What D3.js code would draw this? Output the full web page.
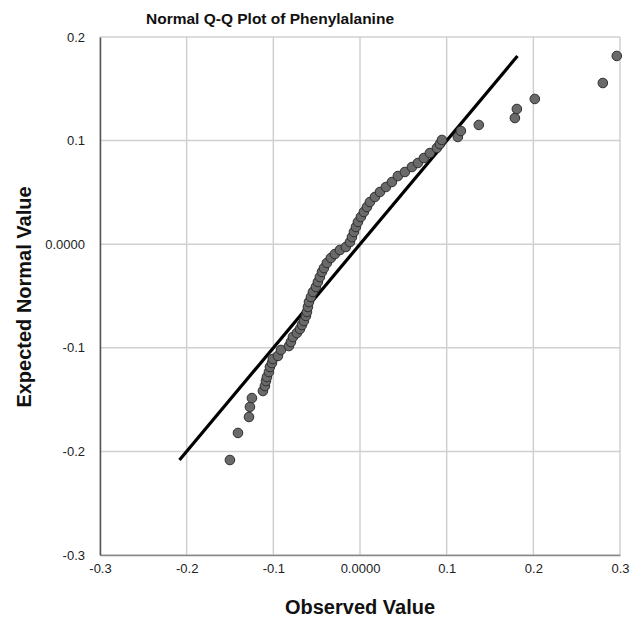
<!DOCTYPE html>
<html>
<head>
<meta charset="utf-8">
<script src="https://cdn.jsdelivr.net/npm/d3@7"></script>
<style>
  html, body { margin: 0; padding: 0; background: #fff; }
  svg { display: block; font-family: Arial, "Liberation Sans", sans-serif; }
</style>
</head>
<body>
<svg id="chart" width="633" height="624"></svg>
<script>
const observed = [
  -0.1501, -0.1408, -0.1281, -0.1270, -0.1247, -0.1120, -0.1097, -0.1085, -0.1074, -0.1051,
  -0.1039, -0.1016, -0.1005, -0.0947, -0.0912, -0.0820, -0.0797, -0.0774, -0.0728, -0.0693,
  -0.0670, -0.0647, -0.0624, -0.0612, -0.0601, -0.0589, -0.0566, -0.0543, -0.0509, -0.0486,
  -0.0463, -0.0439, -0.0416, -0.0382, -0.0336, -0.0290, -0.0232, -0.0163, -0.0116, -0.0093,
  -0.0070, -0.0047, -0.0024, 0.0010, 0.0045, 0.0080, 0.0114, 0.0172, 0.0230, 0.0299,
  0.0368, 0.0437, 0.0518, 0.0599, 0.0668, 0.0737, 0.0806, 0.0887, 0.0922, 0.0945,
  0.1129, 0.1164, 0.1371, 0.1787, 0.1810, 0.2017, 0.2802, 0.2963
];
const expected = [
  -0.2083, -0.1822, -0.1668, -0.1571, -0.1485, -0.1417, -0.1369, -0.1320, -0.1282, -0.1234,
  -0.1185, -0.1147, -0.1108, -0.1079, -0.1021, -0.0983, -0.0944, -0.0896, -0.0857, -0.0819,
  -0.0780, -0.0741, -0.0693, -0.0654, -0.0606, -0.0558, -0.0510, -0.0461, -0.0413, -0.0365,
  -0.0317, -0.0268, -0.0230, -0.0181, -0.0133, -0.0095, -0.0056, -0.0027, 0.0021, 0.0069,
  0.0118, 0.0166, 0.0214, 0.0263, 0.0311, 0.0359, 0.0407, 0.0456, 0.0504, 0.0552,
  0.0600, 0.0658, 0.0697, 0.0745, 0.0784, 0.0832, 0.0880, 0.0929, 0.0967, 0.1006,
  0.1035, 0.1093, 0.1151, 0.1218, 0.1305, 0.1402, 0.1556, 0.1817
];
const xTicks = [-0.3, -0.2, -0.1, 0, 0.1, 0.2, 0.3];
const yTicks = [-0.3, -0.2, -0.1, 0, 0.1, 0.2];
const tickLabel = v => (v === 0 ? "0.0000" : String(v));

const title = "Normal Q-Q Plot of Phenylalanine";
const xTitle = "Observed Value";
const yTitle = "Expected Normal Value";

const svg = d3.select("#chart");
const m = { left: 100, right: 620, top: 37, bottom: 555 };

const x = d3.scaleLinear().domain([-0.3, 0.3]).range([m.left, m.right]);
const y = d3.scaleLinear().domain([-0.3, 0.2]).range([m.bottom, m.top]);

// grid
svg.append("g").selectAll("line.vx").data(xTicks).join("line")
  .attr("x1", d => x(d)).attr("x2", d => x(d))
  .attr("y1", m.top).attr("y2", m.bottom)
  .attr("stroke", "#d0d0d0").attr("stroke-width", 1.5);
svg.append("g").selectAll("line.hy").data(yTicks).join("line")
  .attr("x1", m.left).attr("x2", m.right)
  .attr("y1", d => y(d)).attr("y2", d => y(d))
  .attr("stroke", "#d0d0d0").attr("stroke-width", 1.5);

// axes
const xAxis = d3.axisBottom(x).tickValues(xTicks).tickFormat(tickLabel).tickSize(0).tickPadding(9);
const gx = svg.append("g").attr("transform", `translate(0,${m.bottom})`).call(xAxis);
gx.select(".domain").attr("stroke", "#888").attr("stroke-width", 1.5);
gx.selectAll("text").attr("font-size", 13).attr("fill", "#222").attr("font-family", "Arial, 'Liberation Sans', sans-serif");

const yAxis = d3.axisLeft(y).tickValues(yTicks).tickFormat(tickLabel).tickSize(0).tickPadding(15);
const gy = svg.append("g").attr("transform", `translate(${m.left},0)`).call(yAxis);
gy.select(".domain").attr("stroke", "#555").attr("stroke-width", 1.5);
gy.selectAll("text").attr("font-size", 13).attr("fill", "#222").attr("font-family", "Arial, 'Liberation Sans', sans-serif");

// reference line y = x
const ext = d3.extent(expected);
svg.append("line")
  .attr("x1", x(ext[0])).attr("y1", y(ext[0]))
  .attr("x2", x(ext[1])).attr("y2", y(ext[1]))
  .attr("stroke", "#000").attr("stroke-width", 3.2);

// points
const pts = observed.map((v, i) => ({ o: v, e: expected[i] }));
svg.append("g").selectAll("circle").data(pts).join("circle")
  .attr("cx", d => x(d.o)).attr("cy", d => y(d.e)).attr("r", 4.8)
  .attr("fill", "#6a6a6a").attr("stroke", "#2e2e2e").attr("stroke-width", 1);

// titles
svg.append("text").attr("x", 270).attr("y", 24).attr("text-anchor", "middle")
  .attr("font-size", 15.5).attr("font-weight", "bold").attr("fill", "#111").text(title);
svg.append("text").attr("x", 360).attr("y", 614).attr("text-anchor", "middle")
  .attr("font-size", 20).attr("font-weight", "bold").attr("fill", "#111").text(xTitle);
svg.append("text").attr("transform", "translate(31,297) rotate(-90)").attr("text-anchor", "middle")
  .attr("font-size", 20).attr("font-weight", "bold").attr("fill", "#111").text(yTitle);
</script>
</body>
</html>
